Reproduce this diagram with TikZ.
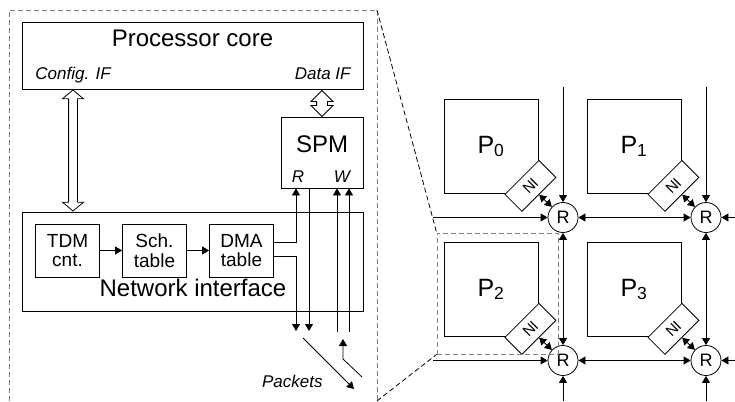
\documentclass[tikz,border=0pt]{standalone}
\usepackage{fontspec}
\setmainfont{Liberation Sans}
\usetikzlibrary{arrows.meta,positioning,shapes.arrows,calc}

\begin{document}
\begin{tikzpicture}[x=1pt,y=-1pt,line width=0.8pt,node distance=87pt,on grid,
>={Triangle[length=7pt,width=8pt]},
box/.style={draw,inner sep=0pt},
bigtext/.style={inner sep=0pt,font=\fontsize{24}{28}\selectfont},
porttext/.style={inner sep=0pt,font=\fontsize{17}{20}\selectfont\itshape},
unit/.style={box,minimum width=64pt,minimum height=53pt,align=center,
    font=\fontsize{19}{19.5}\selectfont},
tile/.style={box,minimum size=94pt,font=\fontsize{25}{28}\selectfont},
nibox/.style={box,fill=white,rotate=45,minimum width=48pt,minimum height=24pt,
    font=\fontsize{15}{16}\selectfont},
router/.style={circle,draw,fill=white,inner sep=0pt,minimum size=30pt,
    font=\fontsize{18}{20}\selectfont},
fatarrow/.style={double arrow,draw,fill=white,rotate=90,inner sep=4pt,
    double arrow head extend=6pt,double arrow tip angle=100},
outerframe/.style={gray,dash pattern=on 5pt off 3pt},
zoomline/.style={dash pattern=on 5pt off 3pt}
]
\useasboundingbox (0,0) rectangle (735,401);

% processor tile (left)
\coordinate (f1) at (9,401);
\coordinate (f2) at (9,10);
\coordinate (f3) at (377,10);
\coordinate (f4) at (377,401);
\draw[outerframe] (f1) -- (f2) -- (f3) -- (f4);

\node[box,minimum width=341pt,minimum height=67pt] (core) at (192.5,55.5) {};
\node[bigtext] (coretxt) at (192.5,38) {Processor core};
\node[porttext,anchor=base west] (cfgif) at (35,80) {Config. IF};
\node[porttext,anchor=base east] (dataif) at (351,80) {Data IF};

\node[box,minimum width=82pt,minimum height=71pt] (spm) at (322,152.5) {};
\node[bigtext] (spmtxt) at (322,144) {SPM};
\node[porttext] (rport) at (298,177) {R};
\node[porttext] (wport) at (342,177) {W};

\node[box,minimum width=341pt,minimum height=99pt] (ni) at (192.5,261.5) {};
\node[bigtext] (nitxt) at (193,288) {Network interface};
\node[unit] (tdm) at (67.5,250.5) {TDM\\cnt.};
\node[unit] (sch) [right=of tdm] {Sch.\\table};
\node[unit] (dma) [right=of sch] {DMA\\table};

\node[fatarrow,minimum height=121pt] (cfgarrow) at (73,150.5) {};
\node[fatarrow,minimum height=26pt,inner sep=5pt,double arrow head extend=5.5pt,
    double arrow tip angle=90] (dataarrow) at (322,103.5) {};

\coordinate (rd1) at (296,331);
\coordinate (rd2) at (309,331);
\coordinate (wr1) at (337,332);
\coordinate (wr2) at (349,332);
\coordinate (pk1) at (303,338);
\coordinate (pk2) at (354,389);
\coordinate (pk3) at (362,377);
\coordinate (pk4) at (343,359);
\coordinate (pk5) at (343,339);

\path[->]
     (tdm) edge (sch)
     (sch) edge (dma)
     (spm.south -| rd2) edge (rd2)
     (wr1) edge (spm.south -| wr1)
     (wr2) edge (spm.south -| wr2)
     (pk1) edge (pk2);
\draw[->] ([yshift=8.5pt]dma.east) -| (spm.south -| rd1);
\draw[->] ([yshift=-5.5pt]dma.east) -| (rd1);
\draw[->] (pk3) -- (pk4) -- (pk5);
\node[porttext,anchor=base east] (pkts) at (323,387) {Packets};

% mesh (right)
\node[router] (R0) at (563,217.5) {R};
\node[router] (R1) [right=143pt of R0] {R};
\node[router] (R2) [below=143pt of R0] {R};
\node[router] (R3) [right=143pt of R2] {R};

\node[tile] (P0) [above left=71pt and 72pt of R0] {P\textsubscript{0}};
\node[tile] (P1) [above left=71pt and 72pt of R1] {P\textsubscript{1}};
\node[tile] (P2) [above left=71pt and 72pt of R2] {P\textsubscript{2}};
\node[tile] (P3) [above left=71pt and 72pt of R3] {P\textsubscript{3}};
\coordinate (n0) at ($(P0.south east)+(-8,-8)$);
\coordinate (n1) at ($(P1.south east)+(-8,-8)$);
\coordinate (n2) at ($(P2.south east)+(-8,-8)$);
\coordinate (n3) at ($(P3.south east)+(-8,-8)$);
\node[nibox] (N0) at (n0) {NI};
\node[nibox] (N1) at (n1) {NI};
\node[nibox] (N2) at (n2) {NI};
\node[nibox] (N3) at (n3) {NI};

\coordinate (t0) at (R0 |- 0,87);
\coordinate (t1) at (R1 |- 0,87);
\coordinate (l0) at (433,0 |- R0);
\coordinate (l2) at (433,0 |- R2);
\coordinate (e1) at (735,0 |- R1);
\coordinate (e3) at (735,0 |- R3);
\coordinate (b2) at (R2 |- 0,401);
\coordinate (b3) at (R3 |- 0,401);

\path[->]
     (t0) edge (R0)
     (t1) edge (R1)
     (l0) edge (R0)
     (l2) edge (R2)
     (e1) edge (R1)
     (e3) edge (R3)
     (b2) edge (R2)
     (b3) edge (R3);
\path[<->]
     (R0) edge (R1)
          edge (R2)
     (R3) edge (R1)
          edge (R2)
     (N0.south) edge (R0)
     (N1.south) edge (R1)
     (N2.south) edge (R2)
     (N3.south) edge (R3);

% zoom frame
\node[box,outerframe,minimum width=121pt,minimum height=121pt] (zoomed) at (497.5,293.5) {};
\draw[zoomline] (f3) -- (zoomed.north west);
\draw[zoomline] (f4) -- (zoomed.south west);
\end{tikzpicture}
\end{document}
